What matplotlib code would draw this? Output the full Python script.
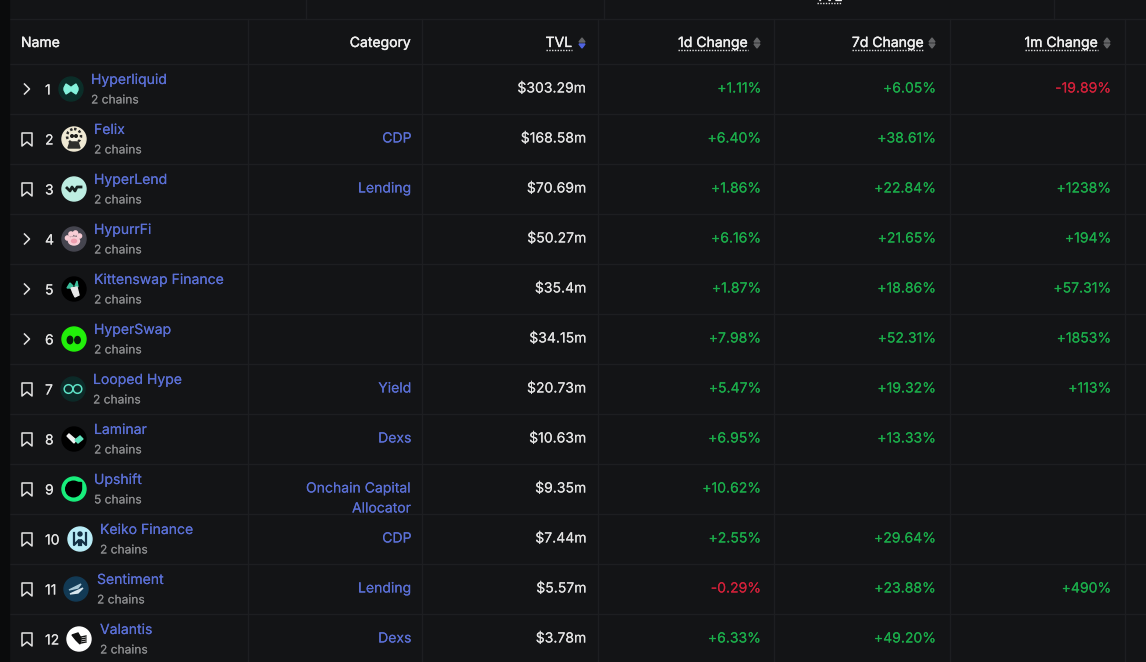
import matplotlib
matplotlib.use("Agg")
import matplotlib.pyplot as plt
import matplotlib.patheffects as pe
from matplotlib.patches import Circle, Ellipse, Polygon, Rectangle

# table data
NAMES = ["Hyperliquid", "Felix", "HyperLend", "HypurrFi", "Kittenswap Finance", "HyperSwap",
         "Looped Hype", "Laminar", "Upshift", "Keiko Finance", "Sentiment", "Valantis"]
CHAINS = ["2 chains", "2 chains", "2 chains", "2 chains", "2 chains", "2 chains",
          "2 chains", "2 chains", "5 chains", "2 chains", "2 chains", "2 chains"]
CATEGORIES = ["", "CDP", "Lending", "", "", "", "Yield", "Dexs",
              "Onchain Capital\nAllocator", "CDP", "Lending", "Dexs"]
TVL = ["$303.29m", "$168.58m", "$70.69m", "$50.27m", "$35.4m", "$34.15m",
       "$20.73m", "$10.63m", "$9.35m", "$7.44m", "$5.57m", "$3.78m"]
CHANGE_1D = ["+1.11%", "+6.40%", "+1.86%", "+6.16%", "+1.87%", "+7.98%",
             "+5.47%", "+6.95%", "+10.62%", "+2.55%", "-0.29%", "+6.33%"]
CHANGE_7D = ["+6.05%", "+38.61%", "+22.84%", "+21.65%", "+18.86%", "+52.31%",
             "+19.32%", "+13.33%", "", "+29.64%", "+23.88%", "+49.20%"]
CHANGE_1M = ["-19.89%", "", "+1238%", "+194%", "+57.31%", "+1853%",
             "+113%", "", "", "", "+490%", ""]
HEADERS = ["1d Change", "7d Change", "1m Change"]
EXPANDABLE = [True, False, False, True, True, True, False, False, False, False, False, False]

# layout, in pixels of the screenshot
W, H = 1146, 662
ICON_X = [71, 74, 74, 74, 74, 74, 73, 74, 74, 80, 76, 79]
NAME_X = [91, 94, 94, 94, 94, 94, 93, 94, 94, 100, 97, 100]
COLUMN_LINES = [248, 422, 598, 774, 950, 1125]
TOP_LINES = [306, 604, 1054]

BG = "#131416"
EDGE = "#1d1e21"
BLUE = "#5b70d6"
GREEN = "#1bad4b"
RED = "#d2213a"
WHITE = "#e4e4e4"
HEAD = "#f0f0f0"
GREY = "#8b8c8e"
SORT = "#646567"

plt.rcParams["font.family"] = ["Inter", "DejaVu Sans"]


def label(ax, x, y, text, color, size=14, ha="left", bold=0.05, **kw):
    # the browser text is a little heavier than the Inter regular, thicken it with a thin stroke
    t = ax.text(x, y, text, ha=ha, va="baseline", color=color, fontsize=size * 0.72, **kw)
    t.set_path_effects([pe.withStroke(linewidth=bold, foreground=color)])
    return t


def draw_icon(ax, i, x, y):
    r = 12
    if i == 0:
        ax.add_patch(Circle((x, y), r, color="#0b2e29", zorder=3))
        ax.add_patch(Polygon([(x - 7, y - 1), (x - 5, y - 5), (x - 2, y - 3), (x, y - 1.5), (x + 2, y - 3), (x + 5, y - 5),
                              (x + 7, y - 1), (x + 7, y + 1), (x + 5, y + 5), (x + 2, y + 3), (x, y + 1.5), (x - 2, y + 3),
                              (x - 5, y + 5), (x - 7, y + 1)], color="#84f3dc", zorder=4))
    elif i == 1:
        ax.add_patch(Circle((x, y), r, color="#f0ead4", zorder=3))
        ax.add_patch(Circle((x, y - 3), 7, fc="none", ec="#2a2a28", lw=1.8, ls=(0, (1, 1)), zorder=4))
        ax.add_patch(Ellipse((x, y - 2), 8, 7, color="#f5f1e2", zorder=4))
        ax.add_patch(Circle((x - 2, y - 3), 1.3, color="#1c1c1a", zorder=5))
        ax.add_patch(Circle((x + 2, y - 3), 1.3, color="#1c1c1a", zorder=5))
        ax.add_patch(Polygon([(x - 6, y + 9), (x - 4, y + 3), (x + 4, y + 3), (x + 6, y + 9)], color="#2e2e2b", zorder=4))
    elif i == 2:
        ax.add_patch(Circle((x, y), r, color="#bdeee2", zorder=3))
        ax.plot([x - 7, x - 4, x - 2, x + 1, x + 3, x + 7], [y - 1, y + 2, y - 2, y + 2, y - 2, y - 2],
                color="#16211f", lw=2, zorder=4)
    elif i == 3:
        ax.add_patch(Circle((x, y), r, color="#45454f", zorder=3))
        ax.add_patch(Ellipse((x, y + 2), 11, 8, color="#f9ced6", zorder=4))
        ax.add_patch(Ellipse((x, y + 2), 5, 3.5, color="#ef9fb0", zorder=5))
        for dx, dy in [(-6.5, -1), (-3, -5), (1.5, -6), (5.5, -3)]:
            ax.add_patch(Circle((x + dx, y + dy), 2.1, color="#f9ced6", zorder=4))
    elif i == 4:
        ax.add_patch(Circle((x, y), r, color="#000000", zorder=3))
        ax.add_patch(Polygon([(x - 7, y - 1), (x - 4, y - 6), (x - 1, y - 3), (x - 3, y - 1)], color="#3bbf9c", zorder=4))
        ax.add_patch(Polygon([(x + 3, y - 8), (x + 4, y - 2), (x + 1, y - 3)], color="#3bbf9c", zorder=4))
        ax.add_patch(Polygon([(x - 3, y - 1), (x + 3, y - 2), (x + 5, y + 6), (x + 1, y + 8), (x - 1, y + 4)],
                             color="#e8e8e8", zorder=4))
    elif i == 5:
        ax.add_patch(Circle((x, y), r, color="#22f00a", zorder=3))
        ax.add_patch(Ellipse((x - 4, y + 1), 5.5, 7.5, color="#07200a", zorder=4))
        ax.add_patch(Ellipse((x + 3.5, y + 1), 5.5, 7, color="#07200a", zorder=4))
    elif i == 6:
        ax.add_patch(Circle((x, y), r, color="#0c2a28", zorder=3))
        ax.add_patch(Circle((x - 4.5, y), 4.3, fc="none", ec="#5de0c5", lw=1.1, zorder=4))
        ax.add_patch(Circle((x + 4.5, y), 4.3, fc="none", ec="#5de0c5", lw=1.1, zorder=4))
    elif i == 7:
        ax.add_patch(Circle((x, y), r, color="#000000", zorder=3))
        ax.add_patch(Polygon([(x - 7, y - 3), (x - 5, y - 5), (x + 2, y + 1), (x, y + 4)], color="#f0f0f0", zorder=4))
        ax.add_patch(Polygon([(x + 1, y + 1), (x + 6, y - 3), (x + 9, y), (x + 4, y + 4)], color="#5fe3bd", zorder=4))
    elif i == 8:
        ax.add_patch(Circle((x, y), r, color="#18ee7c", zorder=3))
        ax.add_patch(Circle((x - 0.5, y), 7.8, color="#000000", zorder=4))
        ax.add_patch(Rectangle((x - 6, y - 7.3), 13, 7.3, color="#000000", zorder=4))
    elif i == 9:
        ax.add_patch(Circle((x, y), r, color="#b9edf7", zorder=3))
        ax.add_patch(Circle((x, y - 5), 2, color="#123044", zorder=4))
        ax.plot([x - 6, x - 6, x - 1, x - 1], [y - 6, y + 6, y + 1, y + 6], color="#123044", lw=1.6, zorder=4)
        ax.plot([x + 6, x + 6, x + 1, x + 1], [y - 6, y + 6, y + 1, y + 6], color="#123044", lw=1.6, zorder=4)
    elif i == 10:
        ax.add_patch(Circle((x, y), r, color="#123a55", zorder=3))
        ax.add_patch(Polygon([(x - 7, y + 1), (x + 5, y - 5), (x + 2, y - 1)], color="#a9c7d6", zorder=4))
        ax.add_patch(Polygon([(x - 6, y + 5), (x + 7, y - 1), (x + 2, y + 4)], color="#d8e6ee", zorder=4))
    else:
        ax.add_patch(Circle((x, y), r, color="#ffffff", zorder=3))
        ax.add_patch(Polygon([(x - 7, y - 4), (x - 1, y - 6), (x + 2, y - 1), (x + 1, y + 5), (x - 3, y + 1)],
                             color="#111111", zorder=4))
        for k in range(4):
            ax.plot([x + 2, x + 7], [y - 2 + k * 2, y - 3 + k * 2], color="#111111", lw=1, zorder=4)


def draw_bookmark(ax, x, y):
    pts = [(x - 5, y - 6), (x + 5, y - 6), (x + 5, y + 7), (x, y + 3), (x - 5, y + 7)]
    ax.add_patch(Polygon(pts, closed=True, fc="none", ec=WHITE, lw=1.1, joinstyle="round", zorder=3))


def draw_chevron(ax, x, y):
    ax.plot([x - 2.5, x + 2.5, x - 2.5], [y - 5, y, y + 5], color=WHITE, lw=1.1, zorder=3)


def draw_sort(ax, x, y, lower=SORT):
    ax.add_patch(Polygon([(x - 3, y - 1), (x + 3, y - 1), (x, y - 5)], color=SORT, zorder=3))
    ax.add_patch(Polygon([(x - 3, y + 1), (x + 3, y + 1), (x, y + 5)], color=lower, zorder=3))


def header(ax, text, right):
    t = label(ax, right, 47, text, HEAD, ha="right", bold=0.25)
    box = t.get_window_extent(ax.figure.canvas.get_renderer())
    ax.plot([box.x0, box.x1], [49.5, 49.5], color="#e0e0e0", lw=1, ls=(0, (1, 1)), zorder=3)


def change_text(ax, x, y, value):
    if value:
        label(ax, x, y, value, RED if value.startswith("-") else GREEN, ha="right")


def main():
    fig = plt.figure(figsize=(W / 100, H / 100), dpi=100, facecolor=BG)
    ax = fig.add_axes([0, 0, 1, 1])
    ax.set_xlim(0, W)
    ax.set_ylim(H, 0)
    ax.axis("off")
    fig.canvas.draw()

    ax.add_patch(Rectangle((0, 0), 9, H, color="#0a0b0c", zorder=5))

    # grid
    for x in TOP_LINES:
        ax.plot([x, x], [0, 19], color=EDGE, lw=1, zorder=1)
    for x in COLUMN_LINES:
        ax.plot([x, x], [19, H], color=EDGE, lw=1, zorder=1)
    row_lines = [19, 64] + [64 + 50 * (i + 1) for i in range(len(NAMES))]
    for y in row_lines:
        ax.plot([9, W], [y, y], color=EDGE, lw=1, zorder=1)

    # group header cut by the top of the screenshot
    label(ax, 829, 1, "TVL", HEAD, ha="center", bold=0.25, clip_on=True)
    ax.plot([817, 842], [2.5, 2.5], color="#e0e0e0", lw=1, ls=(0, (1, 1)), zorder=3)

    # header row
    label(ax, 21, 47, "Name", HEAD, bold=0.25)
    label(ax, 411, 47, "Category", HEAD, ha="right", bold=0.25)
    header(ax, "TVL", 572)
    draw_sort(ax, 582, 43, lower="#4f63e0")
    for text, right, sort_x in zip(HEADERS, [748, 924, 1098], [757, 932, 1107]):
        header(ax, text, right)
        draw_sort(ax, sort_x, 43)

    # rows
    for i, name in enumerate(NAMES):
        y = 89 + 50 * i
        if EXPANDABLE[i]:
            draw_chevron(ax, 27, y)
        else:
            draw_bookmark(ax, 27, y)
        label(ax, 45, y + 5.5, str(i + 1), WHITE)
        draw_icon(ax, i, ICON_X[i], y)
        label(ax, NAME_X[i], y - 5, name, BLUE)
        label(ax, NAME_X[i], y + 14.5, CHAINS[i], GREY, size=12, bold=0.02)
        for k, part in enumerate(CATEGORIES[i].split("\n")):
            label(ax, 411.5, y + 3.5 + 20 * k, part, BLUE, ha="right")
        label(ax, 586.5, y + 3.5, TVL[i], WHITE, ha="right")
        change_text(ax, 761.5, y + 3.5, CHANGE_1D[i])
        change_text(ax, 936.5, y + 3.5, CHANGE_7D[i])
        change_text(ax, 1111.5, y + 3.5, CHANGE_1M[i])

    fig.savefig("out.png", dpi=100, facecolor=BG)
    plt.close(fig)


if __name__ == "__main__":
    main()
